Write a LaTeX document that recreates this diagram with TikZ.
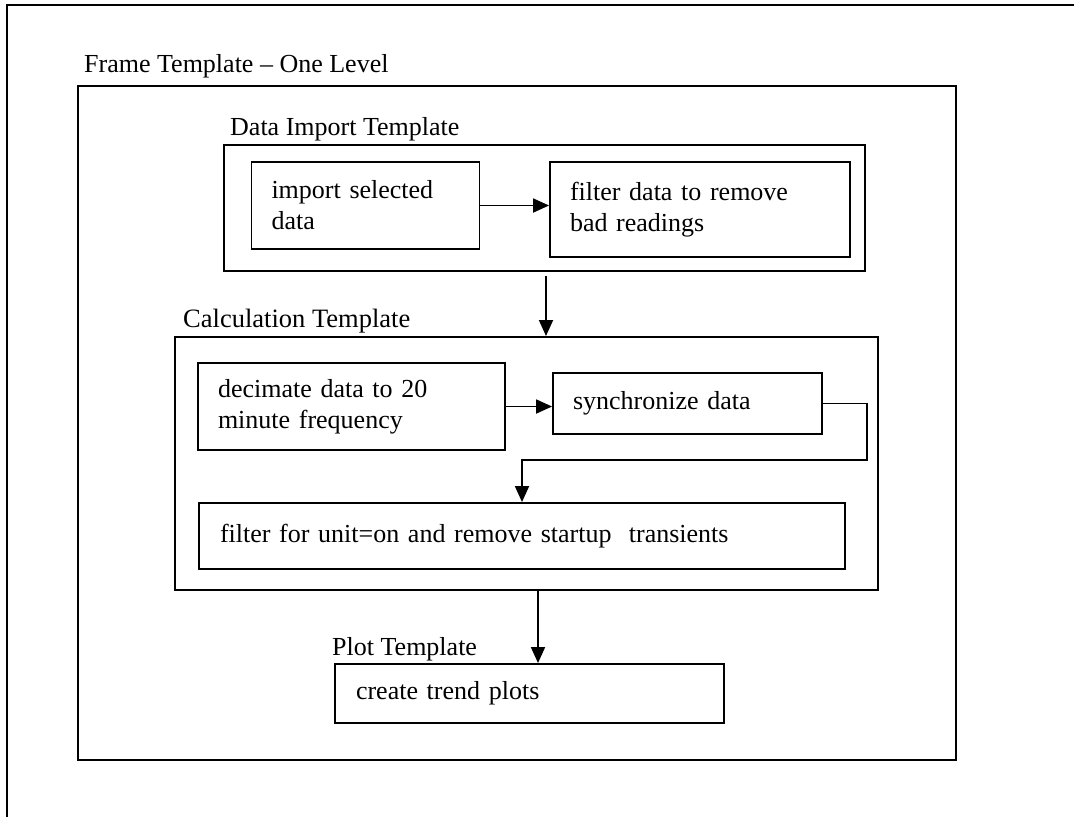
\documentclass[tikz,border=0pt]{standalone}
\usepackage{fontspec}
\setmainfont{Liberation Serif}
\usetikzlibrary{arrows.meta,positioning}

\newcommand{\txtfont}{\fontsize{26}{31}\selectfont}

\begin{document}
\begin{tikzpicture}[x=1pt, y=-1pt, line cap=butt, line join=miter,
		group/.style={draw, line width=2pt, inner sep=0pt},
		stepbox/.style={draw, line width=1.9pt, inner xsep=20pt, inner ysep=0pt,
			align=left, font=\txtfont},
		title/.style={anchor=base west, inner sep=0pt, font=\txtfont},
		flow/.style={line width=1.8pt, -{Triangle[length=16pt, width=14pt]}}]
		
		\useasboundingbox (0,0) rectangle (1074,817);
		
		% Open outer frame (cut at right and bottom)
		\draw[line width=2.2pt] (1074,5) -- (7,5) -- (7,817);
		
		% Frame template
		\node[group, minimum width=878pt, minimum height=674pt] (frame) at (517,423) {};
		\node[title] (frametitle) at (84,72) {Frame Template -- One Level};
		
		% Data import template
		\node[group, minimum width=641pt, minimum height=126pt] (dimp) at (544.5,208) {};
		\node[title] (dimptitle) at (230,135) {Data Import Template};
		\node[stepbox, minimum width=228pt, minimum height=87pt, text width=188pt] (import) at (365.5,205.5)
			{import selected\\data};
		\node[stepbox, minimum width=300pt, minimum height=95pt, text width=260pt] (filter) at (700,209.5)
			{filter data to remove\\bad readings};
		
		% Calculation template
		\node[group, minimum width=703pt, minimum height=253pt] (calc) at (526.5,463.5) {};
		\node[title, font=\fontsize{26.5}{32}\selectfont] (calctitle) at (183,327) {Calculation Template};
		\node[stepbox, minimum width=307pt, minimum height=87pt, text width=267pt] (decim) at (351.5,406.5)
			{decimate data to 20\\minute frequency};
		\node[stepbox, minimum width=269pt, minimum height=61pt, text width=229pt] (sync) at (687.5,403.5)
			{synchronize data};
		\node[stepbox, minimum width=646pt, minimum height=66pt, text width=604pt, inner xsep=21pt] (unit) at (522,536)
			{filter for unit=on and remove startup\ \ transients};
		\coordinate (bend) at (867,460);
		
		% Plot template
		\node[stepbox, minimum width=389pt, minimum height=59pt, text width=347pt, inner xsep=21pt] (plot) at (529.5,693.5)
			{create trend plots};
		\node[title] (plottitle) at (332,655) {Plot Template};
		
		% Connectors
		\draw[flow] (import.east) -- (import.east -| filter.west);
		\draw[flow] ([xshift=1.5pt, yshift=-4pt]dimp.south) -- ([xshift=1.5pt]dimp.south |- calc.north);
		\draw[flow] (decim.east) -- (decim.east -| sync.west);
		\draw[line width=1.8pt] (sync.east) -| ([yshift=-1pt]bend);
		\draw[flow] (bend) -| (unit.north);
		\draw[flow] ([xshift=8.5pt]plot.north |- calc.south) -- ([xshift=8.5pt]plot.north);
		
	\end{tikzpicture}
\end{document}
